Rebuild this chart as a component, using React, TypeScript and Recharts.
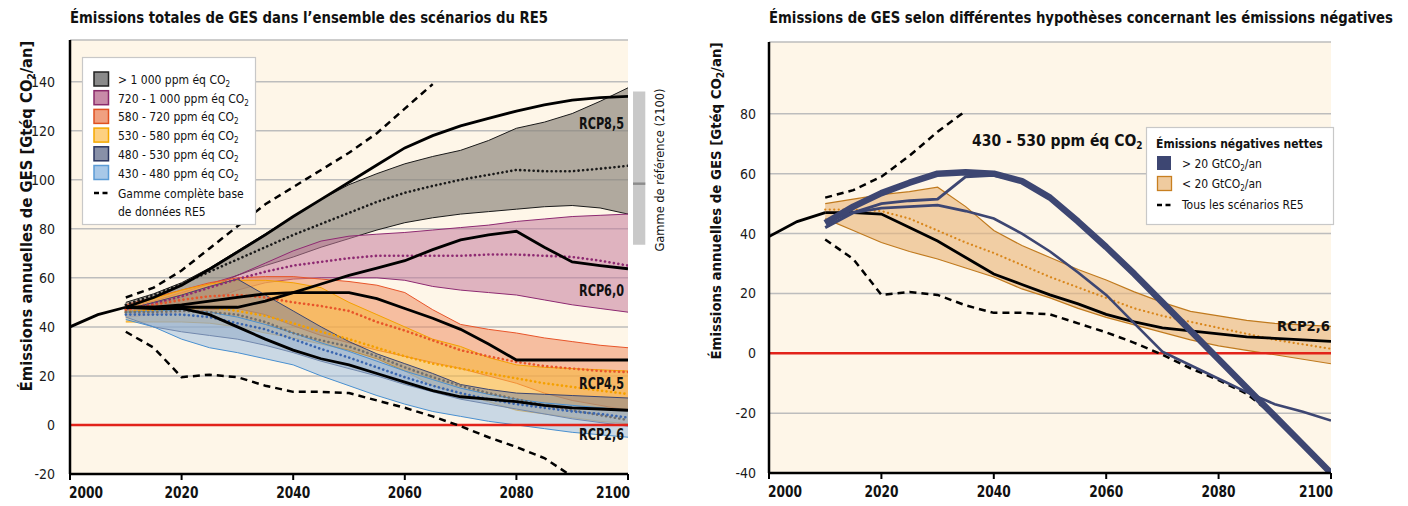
import React from 'react';
import { ComposedChart, Area, Line, XAxis, YAxis, CartesianGrid, ReferenceLine, ReferenceArea } from 'recharts';

const FONT = "'Liberation Sans Narrow', 'DejaVu Sans Condensed', 'Roboto Condensed', 'Noto Sans', sans-serif";

// ---------- years ----------
const Y_HIST = [2000, 2005, 2010];
const Y_SCN = [2010, 2015, 2020, 2025, 2030, 2035, 2040, 2045, 2050, 2055, 2060, 2065, 2070, 2075, 2080, 2085, 2090, 2095, 2100];
const Y_DASH_UP_L = [2010, 2015, 2020, 2025, 2030, 2035, 2040, 2045, 2050, 2055, 2060, 2065];
const Y_DASH_UP_R = [2010, 2015, 2020, 2025, 2030, 2035];
const Y_NAVY_A = [2010, 2015, 2020, 2025, 2030, 2035, 2040, 2045];

const X_TICKS = [2000, 2020, 2040, 2060, 2080, 2100];
const Y_TICKS_L = [-20, 0, 20, 40, 60, 80, 100, 120, 140];
const Y_TICKS_R = [-40, -20, 0, 20, 40, 60, 80];

// ---------- left panel values ----------
const HIST_L = [40, 45, 48];
const RCP85 = [48, 52, 57, 63.5, 70.5, 77.5, 85, 92, 99, 106, 113, 118, 122, 125, 128, 130.5, 132.5, 133.5, 134];
const RCP60 = [48, 48, 48, 48, 48, 50.5, 54, 57.5, 61, 64, 67, 71.5, 75.5, 77.5, 79, 72.5, 66.5, 65, 63.7];
const RCP45 = [48, 48, 49, 50.5, 52, 53.5, 54, 54, 54, 51.5, 47.5, 43.5, 39, 33, 26.5, 26.5, 26.5, 26.5, 26.5];
const RCP26_L = [48, 47.5, 47.5, 45, 40, 35, 30.5, 27, 24.5, 21, 17.5, 14, 11.5, 10.5, 9.5, 8, 7, 6.5, 6];

const GREY_HI = [50, 53.5, 58, 64, 71, 78, 85, 92, 98, 102.5, 106.5, 109.5, 112, 116, 121, 123.5, 127, 132, 137.5];
const GREY_LO = [47, 49, 52, 56, 61, 65, 68.5, 72.5, 76, 79.5, 82.5, 84.5, 86, 87, 88, 89, 89.5, 88.5, 86];
const GREY_MED = [49, 53, 57.5, 62.5, 67.5, 72.5, 77.5, 82, 86.5, 91, 94.7, 97.5, 100, 102, 104, 103.5, 103.5, 104.5, 105.7];

const PINK_HI = [48, 50.5, 54, 57.5, 61, 66, 71, 75, 77, 77.8, 78.5, 79.5, 80.5, 81.5, 83, 84, 85, 85.5, 86];
const PINK_LO = [45, 46, 48, 51, 55, 58, 59.5, 60, 60, 60, 59, 56.5, 55, 54, 53, 51, 49, 47.5, 46];
const PINK_MED = [47, 49.5, 52.5, 56, 59.5, 62.5, 65, 66.5, 68, 69, 69, 69, 69, 69.5, 69.5, 69, 68.5, 67, 65];

const ORG_HI = [49, 52, 55, 58, 60, 60.5, 60.5, 59.5, 58.5, 57, 54, 47, 41, 39, 37.5, 35.5, 34, 32.5, 31.5];
const ORG_LO = [44, 45, 46, 47, 47.5, 45, 40.5, 36.5, 33.5, 30.5, 28, 25.5, 23, 20, 17, 13, 10, 8, 6];
const ORG_MED = [47, 49, 51, 52.5, 53, 52, 50, 48.5, 46.5, 42, 38.5, 34.5, 30.5, 28, 25.7, 24, 23, 22, 21.6];

const YEL_HI = [48, 51.5, 55, 57.5, 59, 59, 58, 56, 50, 45, 40, 35, 32, 27.5, 24.5, 23.5, 23, 22.5, 22];
const YEL_LO = [42, 42, 42, 41.5, 40, 37.5, 35.5, 33, 30.5, 27, 22, 16, 12.5, 9.5, 6, 4.5, 3, 1.5, 0.5];
const YEL_MED = [46, 47, 47.5, 48, 46.5, 44.5, 41.5, 38, 35, 31.5, 28, 25, 23, 21, 19, 17, 15.5, 14, 12.6];

const SLT_HI = [47, 50, 53, 56.5, 59.5, 53, 46.5, 40, 34, 29, 25, 21, 16.5, 14.5, 13, 12.5, 12, 11.5, 11];
const SLT_LO = [44, 40, 38, 36.5, 35, 32.5, 29.5, 26, 23, 20, 16.5, 13.5, 10.5, 8.5, 6.5, 4.5, 2.5, 1, -0.5];
const SLT_MED = [46, 46, 46.5, 46, 45, 42, 37.5, 34.5, 32, 28, 23.5, 19.5, 16, 13, 10.5, 8, 6, 4, 2];

const BLU_HI = [46, 46.5, 47, 46, 44, 41, 37.5, 33.5, 30, 26, 22, 18.5, 15, 12.5, 10.5, 9, 8, 7, 6];
const BLU_LO = [43, 40, 35, 31.5, 29.5, 27, 24.5, 20, 16, 12, 8.5, 5.5, 3.5, 1.5, 0, -1.5, -3, -4, -5];
const BLU_MED = [45, 45, 45, 44, 41.5, 39, 35, 31, 27.5, 23.5, 19.5, 16, 13, 10.5, 8.5, 7, 5.5, 4.5, 3];

const DASH_UP_L = [52, 56, 63, 72, 81, 90, 97, 104, 111, 119, 129, 139];
const DASH_LO = [38, 31.5, 19.5, 20.5, 19.5, 16, 13.5, 13.5, 13, 10, 7, 3.5, -0.5, -5, -9, -13.5, -21, -30.5, -40];

// reference range (2100)
const REF_RANGE = [73.5, 136];
const REF_MEDIAN = 98.4;

// ---------- right panel values ----------
const HIST_R = [39, 44, 47];
const RCP26_R = [47, 47, 46.5, 42, 37.5, 32, 26.5, 23, 19.5, 16.5, 13, 10.5, 8.5, 7.5, 6.5, 5.5, 5, 4.5, 4];
const TAN_HI = [50, 51.5, 53, 54, 55.5, 49, 41, 36, 32, 28, 24.5, 20.5, 17, 14, 12.5, 11, 10, 9.5, 9];
const TAN_LO = [45, 41, 37, 34, 31.5, 28.5, 25.5, 21.5, 18.5, 15, 12, 9.5, 7, 4.5, 2.5, 1, -0.5, -2, -3.5];
const TAN_MED = [48, 48, 47.5, 45, 41, 37, 33.5, 29.5, 25.5, 22, 18.5, 15, 12.5, 10.5, 8.5, 6.5, 4.5, 3, 1.5];
const NAVY_THICK = [43.5, 49, 53.5, 57, 60, 60.5, 60, 57.5, 52, 44, 35.5, 26.5, 17, 7.5, -2, -11.5, -21, -30.5, -40];
const NAVY_A = [42, 47, 50, 51, 51.5, 59, 59.5, 57.5];
const NAVY_B = [44, 47, 48.5, 49, 49.5, 47.5, 45, 40, 34, 27, 19.5, 10, 0.5, -4, -8.5, -13, -17, -19.5, -22.5];
const DASH_UP_R = [52, 54.5, 59, 66, 74, 81];

// ---------- table builder ----------
type S = { key: string; years: number[]; values: number[] };
function buildTable(series: S[]) {
  const map = new Map<number, any>();
  series.forEach((s) => {
    s.years.forEach((yr, i) => {
      const row = map.get(yr) ?? { year: yr };
      row[s.key] = s.values[i];
      map.set(yr, row);
    });
  });
  return Array.from(map.values()).sort((a, b) => a.year - b.year);
}

const LEFT_DATA = buildTable([
  { key: 'hist', years: Y_HIST, values: HIST_L },
  { key: 'rcp85', years: Y_SCN, values: RCP85 },
  { key: 'rcp60', years: Y_SCN, values: RCP60 },
  { key: 'rcp45', years: Y_SCN, values: RCP45 },
  { key: 'rcp26', years: Y_SCN, values: RCP26_L },
  { key: 'greyHi', years: Y_SCN, values: GREY_HI },
  { key: 'greyLo', years: Y_SCN, values: GREY_LO },
  { key: 'greyMed', years: Y_SCN, values: GREY_MED },
  { key: 'pinkHi', years: Y_SCN, values: PINK_HI },
  { key: 'pinkLo', years: Y_SCN, values: PINK_LO },
  { key: 'pinkMed', years: Y_SCN, values: PINK_MED },
  { key: 'orgHi', years: Y_SCN, values: ORG_HI },
  { key: 'orgLo', years: Y_SCN, values: ORG_LO },
  { key: 'orgMed', years: Y_SCN, values: ORG_MED },
  { key: 'yelHi', years: Y_SCN, values: YEL_HI },
  { key: 'yelLo', years: Y_SCN, values: YEL_LO },
  { key: 'yelMed', years: Y_SCN, values: YEL_MED },
  { key: 'sltHi', years: Y_SCN, values: SLT_HI },
  { key: 'sltLo', years: Y_SCN, values: SLT_LO },
  { key: 'sltMed', years: Y_SCN, values: SLT_MED },
  { key: 'bluHi', years: Y_SCN, values: BLU_HI },
  { key: 'bluLo', years: Y_SCN, values: BLU_LO },
  { key: 'bluMed', years: Y_SCN, values: BLU_MED },
  { key: 'dashUp', years: Y_DASH_UP_L, values: DASH_UP_L },
  { key: 'dashLo', years: Y_SCN, values: DASH_LO },
]);

const RIGHT_DATA = buildTable([
  { key: 'hist', years: Y_HIST, values: HIST_R },
  { key: 'rcp26', years: Y_SCN, values: RCP26_R },
  { key: 'tanHi', years: Y_SCN, values: TAN_HI },
  { key: 'tanLo', years: Y_SCN, values: TAN_LO },
  { key: 'tanMed', years: Y_SCN, values: TAN_MED },
  { key: 'navyThick', years: Y_SCN, values: NAVY_THICK },
  { key: 'navyA', years: Y_NAVY_A, values: NAVY_A },
  { key: 'navyB', years: Y_SCN, values: NAVY_B },
  { key: 'dashUp', years: Y_DASH_UP_R, values: DASH_UP_R },
  { key: 'dashLo', years: Y_SCN, values: DASH_LO },
]);

const range = (lo: string, hi: string) => (d: any) => (d[lo] == null || d[hi] == null ? null : [d[lo], d[hi]]);

const CREAM = '#FEF6E8';
const GRID = '#BDBDBD';

const BANDS = [
  { lo: 'greyLo', hi: 'greyHi', med: 'greyMed', fill: '#8A847A', op: 0.68, stroke: '#1a1a1a', dot: '#1a1a1a' },
  { lo: 'pinkLo', hi: 'pinkHi', med: 'pinkMed', fill: '#C47C9C', op: 0.55, stroke: '#8E2A72', dot: '#8E2A72' },
  { lo: 'orgLo', hi: 'orgHi', med: 'orgMed', fill: '#EE8A5E', op: 0.52, stroke: '#E8552A', dot: '#E8552A' },
  { lo: 'yelLo', hi: 'yelHi', med: 'yelMed', fill: '#F9B840', op: 0.6, stroke: '#F5A000', dot: '#F5A000' },
  { lo: 'sltLo', hi: 'sltHi', med: 'sltMed', fill: '#6B7A9E', op: 0.45, stroke: '#3C4670', dot: '#707070' },
  { lo: 'bluLo', hi: 'bluHi', med: 'bluMed', fill: '#9EC0E0', op: 0.55, stroke: '#4A90D0', dot: '#3A66B0' },
];

const fit = (w: number) => ({ textLength: w, lengthAdjust: 'spacingAndGlyphs' as const });

const makeXTick = (first: number, last: number) => (props: any) => {
  const { x, y, payload } = props;
  const v = payload.value;
  const anchor = v === first ? 'start' : v === last ? 'end' : 'middle';
  const dx = v === first ? -1 : v === last ? 2 : 0;
  return (
    <text x={x + dx} y={y + 16} textAnchor={anchor} fontFamily={FONT} fontWeight="bold" fontSize={16} fill="#111" {...fit(34)}>
      {v}
    </text>
  );
};

const DOT = { strokeDasharray: '0.1 4.4', strokeLinecap: 'round' as const, strokeWidth: 2.6 };

function LeftChart() {
  return (
    <ComposedChart width={700} height={506} data={LEFT_DATA} margin={{ top: 40, right: 72, bottom: 0, left: 0 }}>
      <CartesianGrid vertical={false} fill={CREAM} stroke={GRID} strokeWidth={1.5} />
      <XAxis
        type="number"
        dataKey="year"
        domain={[2000, 2100]}
        ticks={X_TICKS}
        interval={0}
        allowDataOverflow
        height={32}
        axisLine={{ stroke: '#000', strokeWidth: 2.5 }}
        tickLine={{ stroke: '#000', strokeWidth: 2 }}
        tickSize={6}
        tick={makeXTick(2000, 2100)}
      />
      <YAxis
        type="number"
        domain={[-20, 157]}
        ticks={Y_TICKS_L}
        interval={0}
        allowDataOverflow
        width={70}
        axisLine={{ stroke: '#000', strokeWidth: 2.5 }}
        tickLine={false}
        tickMargin={9}
        tick={{ fontSize: 14, fill: '#1a1a1a', fontFamily: FONT }}
      />
      {BANDS.map((b) => (
        <Area
          key={b.lo}
          type="linear"
          dataKey={range(b.lo, b.hi)}
          stroke={b.stroke}
          strokeWidth={1}
          fill={b.fill}
          fillOpacity={b.op}
          isAnimationActive={false}
          dot={false}
          activeDot={false}
        />
      ))}
      <ReferenceLine y={0} stroke="#E2231A" strokeWidth={2.5} />
      {BANDS.map((b) => (
        <Line key={b.med} type="linear" dataKey={b.med} stroke={b.dot} {...DOT} dot={false} activeDot={false} isAnimationActive={false} />
      ))}
      {['hist', 'rcp85', 'rcp60', 'rcp45', 'rcp26'].map((k) => (
        <Line key={k} type="linear" dataKey={k} stroke="#000" strokeWidth={2.8} dot={false} activeDot={false} isAnimationActive={false} />
      ))}
      {['dashUp', 'dashLo'].map((k) => (
        <Line key={k} type="linear" dataKey={k} stroke="#000" strokeWidth={2.5} strokeDasharray="7 5" dot={false} activeDot={false} isAnimationActive={false} />
      ))}
      <ReferenceArea x1={2100.9} x2={2103.1} y1={REF_RANGE[0]} y2={REF_RANGE[1]} ifOverflow="visible" fill="#C9C9C9" fillOpacity={1} stroke="none" />
      <ReferenceArea x1={2100.9} x2={2103.1} y1={REF_MEDIAN - 0.5} y2={REF_MEDIAN + 0.5} ifOverflow="visible" fill="#8C8C8C" fillOpacity={1} stroke="none" />
    </ComposedChart>
  );
}

function RightChart() {
  return (
    <ComposedChart width={708} height={506} data={RIGHT_DATA} margin={{ top: 42, right: 77, bottom: 0, left: 0 }}>
      <CartesianGrid vertical={false} fill={CREAM} stroke={GRID} strokeWidth={1.5} />
      <XAxis
        type="number"
        dataKey="year"
        domain={[2000, 2100]}
        ticks={X_TICKS}
        interval={0}
        allowDataOverflow
        height={33}
        axisLine={{ stroke: '#000', strokeWidth: 2.5 }}
        tickLine={{ stroke: '#000', strokeWidth: 2 }}
        tickSize={6}
        tick={makeXTick(2000, 2100)}
      />
      <YAxis
        type="number"
        domain={[-40, 104]}
        ticks={Y_TICKS_R}
        interval={0}
        allowDataOverflow
        width={69}
        axisLine={{ stroke: '#000', strokeWidth: 2.5 }}
        tickLine={false}
        tickMargin={7}
        tick={{ fontSize: 14, fill: '#1a1a1a', fontFamily: FONT }}
      />
      <Area
        type="linear"
        dataKey={range('tanLo', 'tanHi')}
        stroke="#C07A1E"
        strokeWidth={1.2}
        fill="#E8B57A"
        fillOpacity={0.62}
        isAnimationActive={false}
        dot={false}
        activeDot={false}
      />
      <ReferenceLine y={0} stroke="#E2231A" strokeWidth={2.5} />
      <Line type="linear" dataKey="tanMed" stroke="#D9861A" {...DOT} strokeWidth={2.2} dot={false} activeDot={false} isAnimationActive={false} />
      {['hist', 'rcp26'].map((k) => (
        <Line key={k} type="linear" dataKey={k} stroke="#000" strokeWidth={2.8} dot={false} activeDot={false} isAnimationActive={false} />
      ))}
      {['dashUp', 'dashLo'].map((k) => (
        <Line key={k} type="linear" dataKey={k} stroke="#000" strokeWidth={2.5} strokeDasharray="7 5" dot={false} activeDot={false} isAnimationActive={false} />
      ))}
      <Line type="linear" dataKey="navyA" stroke="#3D4672" strokeWidth={3} dot={false} activeDot={false} isAnimationActive={false} />
      <Line type="linear" dataKey="navyB" stroke="#3D4672" strokeWidth={2.6} dot={false} activeDot={false} isAnimationActive={false} />
      <Line type="linear" dataKey="navyThick" stroke="#3D4672" strokeWidth={6.5} strokeLinejoin="round" dot={false} activeDot={false} isAnimationActive={false} />
    </ComposedChart>
  );
}

const Sub = ({ children, size = 8 }: { children: React.ReactNode; size?: number }) => (
  <tspan dy={3} fontSize={size}>{children}</tspan>
);

const LEFT_LEGEND = [
  { label: '> 1 000 ppm éq CO', fill: '#8A8A8A', stroke: '#222' },
  { label: '720 - 1 000 ppm éq CO', fill: '#C88BA8', stroke: '#8B2A6B' },
  { label: '580 - 720 ppm éq CO', fill: '#F0A080', stroke: '#E05020' },
  { label: '530 - 580 ppm éq CO', fill: '#FDD080', stroke: '#F5A800' },
  { label: '480 - 530 ppm éq CO', fill: '#8890A8', stroke: '#2A3560' },
  { label: '430 - 480 ppm éq CO', fill: '#A8C8E8', stroke: '#5B9BD5' },
];

function Overlay() {
  const t = { fontFamily: FONT, fill: '#111' };
  return (
    <svg width={1408} height={506} style={{ position: 'absolute', left: 0, top: 0, pointerEvents: 'none' }}>
      {/* titles */}
      <text x={70} y={23} {...t} fontWeight="bold" fontSize={15} {...fit(478)}>
        Émissions totales de GES dans l’ensemble des scénarios du RE5
      </text>
      <text x={769} y={23} {...t} fontWeight="bold" fontSize={15} {...fit(624)}>
        Émissions de GES selon différentes hypothèses concernant les émissions négatives
      </text>
      {/* y labels */}
      <text transform="translate(32,216) rotate(-90)" textAnchor="middle" {...t} fontWeight="bold" fontSize={16.4}>
        Émissions annuelles de GES [Gtéq CO<Sub size={10}>2</Sub><tspan dy={-3}>/an]</tspan>
      </text>
      <text transform="translate(721,201) rotate(-90)" textAnchor="middle" {...t} fontWeight="bold" fontSize={14.8}>
        Émissions annuelles de GES [Gtéq CO<Sub size={10}>2</Sub><tspan dy={-3}>/an]</tspan>
      </text>
      {/* left legend */}
      <rect x={82.5} y={57.5} width={173} height={167} fill="#fff" stroke="#C8C8C8" strokeWidth={1.2} />
      {LEFT_LEGEND.map((e, i) => (
        <g key={e.label}>
          <rect x={94} y={72 + i * 18.7} width={14.5} height={14} fill={e.fill} stroke={e.stroke} strokeWidth={1.5} />
          <text x={118} y={84 + i * 18.7} {...t} fontSize={12}>
            {e.label}
            <Sub>2</Sub>
          </text>
        </g>
      ))}
      <line x1={94} x2={110} y1={193} y2={193} stroke="#000" strokeWidth={2.5} strokeDasharray="5 3.5" />
      <text x={118} y={198} {...t} fontSize={12}>Gamme complète base</text>
      <text x={118} y={216} {...t} fontSize={12}>de données RE5</text>
      {/* RCP labels left */}
      <text x={624} y={129} textAnchor="end" {...t} fontWeight="bold" fontSize={15} {...fit(45)}>RCP8,5</text>
      <text x={624} y={296} textAnchor="end" {...t} fontWeight="bold" fontSize={15} {...fit(45)}>RCP6,0</text>
      <text x={624} y={389} textAnchor="end" {...t} fontWeight="bold" fontSize={15} {...fit(45)}>RCP4,5</text>
      <text x={624} y={440} textAnchor="end" {...t} fontWeight="bold" fontSize={15} {...fit(45)}>RCP2,6</text>
      {/* reference range text */}
      <text transform="translate(664,170) rotate(-90)" textAnchor="middle" {...t} fontSize={13} {...fit(163)}>
        Gamme de référence (2100)
      </text>
      {/* right annotation */}
      <text x={972} y={146} {...t} fontWeight="bold" fontSize={15.5}>
        430 - 530 ppm éq CO<Sub size={10}>2</Sub>
      </text>
      <text x={1330} y={331} textAnchor="end" {...t} fontWeight="bold" fontSize={14} {...fit(53)}>RCP2,6</text>
      {/* right legend */}
      <rect x={1146.5} y={127.5} width={187} height={97} fill="#fff" stroke="#C8C8C8" strokeWidth={1.2} />
      <text x={1156} y={148} {...t} fontWeight="bold" fontSize={12}>Émissions négatives nettes</text>
      <rect x={1157} y={156} width={14} height={14} fill="#3D4672" />
      <text x={1182} y={168} {...t} fontSize={12}>&gt; 20 GtCO<Sub>2</Sub><tspan dy={-3}>/an</tspan></text>
      <rect x={1157.5} y={176.5} width={14} height={14} fill="#EFCB9F" stroke="#C87F20" strokeWidth={1.3} />
      <text x={1182} y={188} {...t} fontSize={12}>&lt; 20 GtCO<Sub>2</Sub><tspan dy={-3}>/an</tspan></text>
      <line x1={1157} x2={1173} y1={205} y2={205} stroke="#000" strokeWidth={2.5} strokeDasharray="5 3.5" />
      <text x={1182} y={209} {...t} fontSize={12}>Tous les scénarios RE5</text>
    </svg>
  );
}

export default function App() {
  return (
    <div style={{ position: 'absolute', left: 0, top: 0, width: 1408, height: 506, background: '#fff', overflow: 'hidden' }}>
      <div style={{ position: 'absolute', left: 0, top: 0 }}>
        <LeftChart />
      </div>
      <div style={{ position: 'absolute', left: 700, top: 0 }}>
        <RightChart />
      </div>
      <Overlay />
    </div>
  );
}
